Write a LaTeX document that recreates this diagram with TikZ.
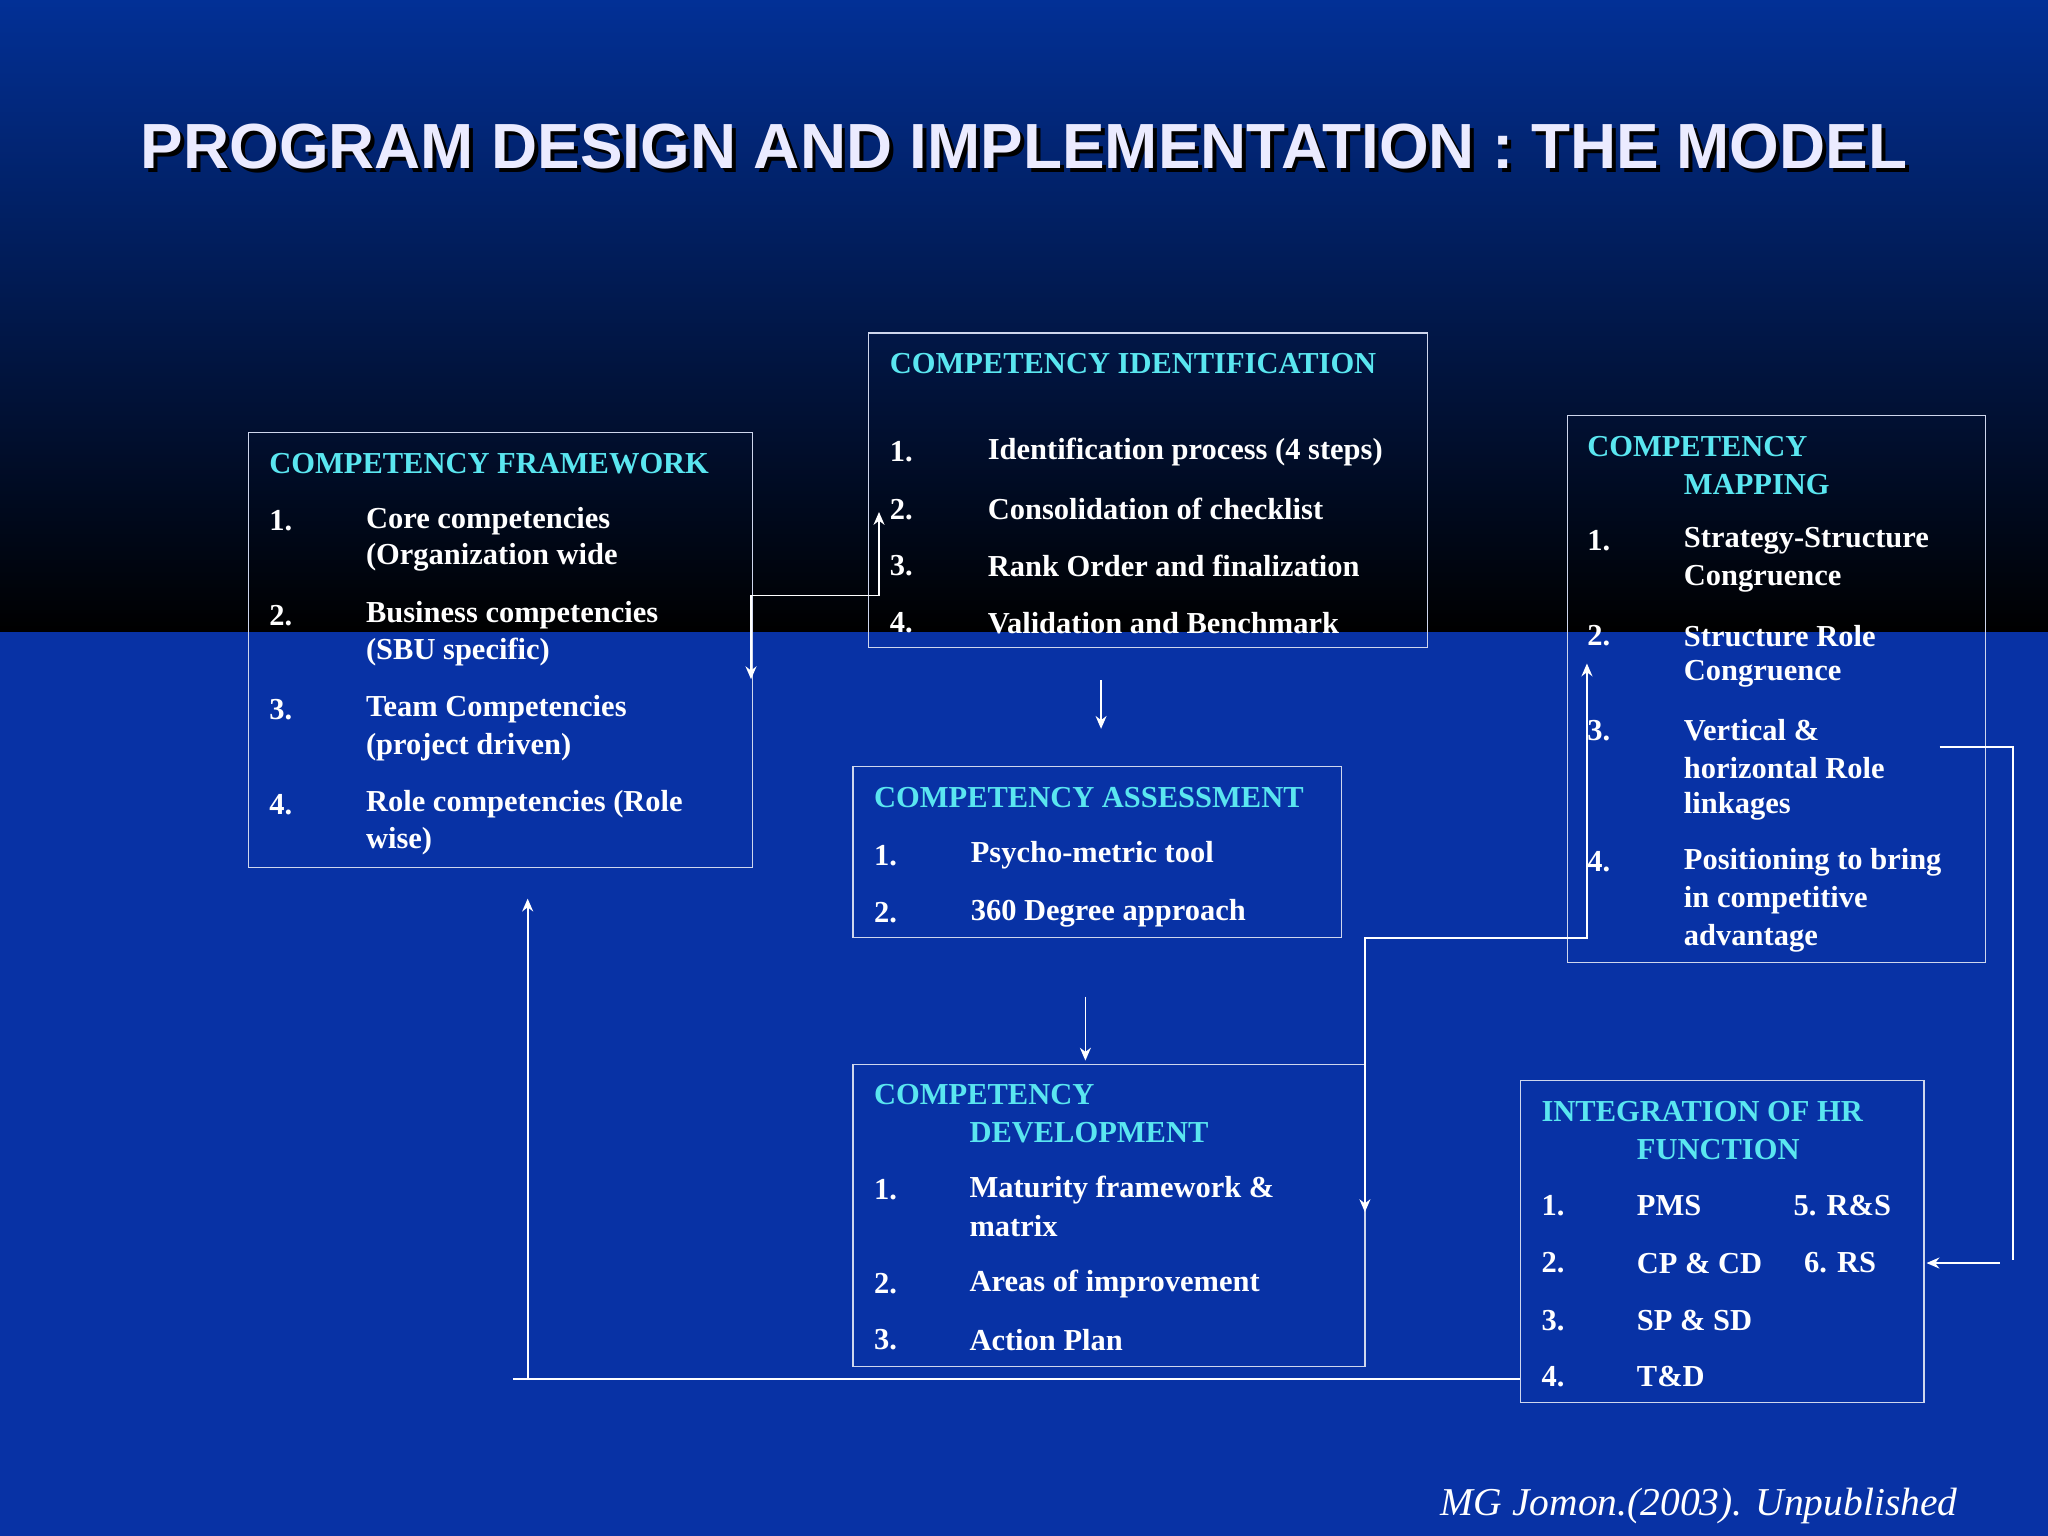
\documentclass[tikz,border=0pt]{standalone}
\usepackage{fontspec}
\setmainfont{Liberation Serif}
\setsansfont{Liberation Sans}
\usetikzlibrary{arrows.meta}
\definecolor{bgblue}{RGB}{8,50,165}
\definecolor{topblue}{RGB}{2,48,150}
\definecolor{headc}{RGB}{90,230,240}
\tikzset{
  box/.style={draw=white!80!bgblue,line width=0.7pt},
  txt/.style={anchor=west,inner sep=0pt,text=white,font=\fontsize{16.6}{19}\selectfont\bfseries},
  hd/.style={txt,text=headc},
  conn/.style={draw=white,line width=0.9pt},
  arr/.style={-{Stealth[length=7pt,width=6pt]}},
}
\newcommand{\T}[3]{\node[txt] at (#1,#2) {#3};}
\newcommand{\Hd}[3]{\node[hd] at (#1,#2) {#3};}
\begin{document}
\begin{tikzpicture}[x=0.025cm,y=-0.025cm]
\useasboundingbox (0,0) rectangle (1568,1176);
\shade[top color=topblue,bottom color=black] (0,0) rectangle (1568,484);
\fill[bgblue] (0,484) rectangle (1568,1176);
% title
\node[inner sep=0pt,text=black] at (787,115) {\resizebox{33.8cm}{!}{\sffamily\bfseries PROGRAM DESIGN AND IMPLEMENTATION : THE MODEL}};
\node[inner sep=0pt,text=white!92!blue] (title) at (784,112) {\resizebox{33.8cm}{!}{\sffamily\bfseries PROGRAM DESIGN AND IMPLEMENTATION : THE MODEL}};
% boxes
\draw[box] (190,331) rectangle (576,664) node[pos=0,inner sep=0] (fw) {};
\draw[box] (665,255) rectangle (1093,496) node[pos=0,inner sep=0] (ci) {};
\draw[box] (653,587) rectangle (1027,718) node[pos=0,inner sep=0] (ca) {};
\draw[box] (653,815) rectangle (1045,1046) node[pos=0,inner sep=0] (cd) {};
\draw[box] (1200,318) rectangle (1520,737) node[pos=0,inner sep=0] (cm) {};
\draw[box] (1164,827) rectangle (1473,1074) node[pos=0,inner sep=0] (ih) {};
% framework
\Hd{206}{355}{COMPETENCY FRAMEWORK}
\T{206}{399}{1.}\T{280}{399}{Core competencies}\T{280}{427}{(Organization wide}
\T{206}{471}{2.}\T{280}{471}{Business competencies}\T{280}{499}{(SBU specific)}
\T{206}{543}{3.}\T{280}{543}{Team Competencies}\T{280}{572}{(project driven)}
\T{206}{616}{4.}\T{280}{616}{Role competencies (Role}\T{280}{644}{wise)}
% identification
\Hd{681}{278}{COMPETENCY IDENTIFICATION}
\T{681}{346}{1.}\T{756}{346}{Identification process (4 steps)}
\T{681}{390}{2.}\T{756}{390}{Consolidation of checklist}
\T{681}{433}{3.}\T{756}{433}{Rank Order and finalization}
\T{681}{477}{4.}\T{756}{477}{Validation and Benchmark}
% assessment
\Hd{669}{611}{COMPETENCY ASSESSMENT}
\T{669}{655}{1.}\T{743}{655}{Psycho-metric tool}
\T{669}{699}{2.}\T{743}{699}{360 Degree approach}
% development
\Hd{669}{838}{COMPETENCY}\Hd{742}{867}{DEVELOPMENT}
\T{669}{911}{1.}\T{742}{911}{Maturity framework \&}\T{742}{939}{matrix}
\T{669}{983}{2.}\T{742}{983}{Areas of improvement}
\T{669}{1026}{3.}\T{742}{1026}{Action Plan}
% mapping
\Hd{1215}{342}{COMPETENCY}\Hd{1289}{371}{MAPPING}
\T{1215}{414}{1.}\T{1289}{414}{Strategy-Structure}\T{1289}{443}{Congruence}
\T{1215}{487}{2.}\T{1289}{487}{Structure Role}\T{1289}{516}{Congruence}
\T{1215}{559}{3.}\T{1289}{559}{Vertical \&}\T{1289}{588}{horizontal Role}\T{1289}{617}{linkages}
\T{1215}{660}{4.}\T{1289}{660}{Positioning to bring}\T{1289}{689}{in competitive}\T{1289}{718}{advantage}
% integration
\Hd{1180}{851}{INTEGRATION OF HR}\Hd{1253}{880}{FUNCTION}
\T{1180}{923}{1.}\T{1253}{923}{PMS}\T{1373}{923}{5. R\&S}
\T{1180}{967}{2.}\T{1253}{967}{CP \& CD}\T{1381}{967}{6. RS}
\T{1180}{1011}{3.}\T{1253}{1011}{SP \& SD}
\T{1180}{1054}{4.}\T{1253}{1054}{T\&D}
% citation
\node[anchor=east,inner sep=0pt,text=white,font=\fontsize{21.5}{24}\selectfont\itshape] (cite) at (1499,1153) {MG Jomon.(2003). Unpublished};
% connectors
\coordinate (a1) at (575,520); \coordinate (a2) at (673,392);
\draw[conn,{Stealth[length=7pt,width=6pt]}-{Stealth[length=7pt,width=6pt]}] (a1) -- (575,456) -- (673,456) -- (a2);
\coordinate (b1) at (843,521); \coordinate (b2) at (843,558);
\draw[conn,arr] (b1) -- (b2);
\coordinate (c1) at (831,763); \coordinate (c2) at (831,812);
\draw[conn,arr] (c1) -- (c2);
\coordinate (d1) at (1045,928); \coordinate (d2) at (1215,508);
\draw[conn,{Stealth[length=7pt,width=6pt]}-{Stealth[length=7pt,width=6pt]}] (d1) -- (1045,718) -- (1215,718) -- (d2);
\coordinate (e1) at (1485,572); \coordinate (e2) at (1541,965);
\draw[conn] (e1) -- (1541,572) -- (e2);
\coordinate (f1) at (1531,967); \coordinate (f2) at (1475,967);
\draw[conn,arr] (f1) -- (f2);
\coordinate (g1) at (1164,1056); \coordinate (g2) at (393,1056); \coordinate (g3) at (404,688);
\draw[conn] (g1) -- (g2);
\draw[conn,arr] (404,1056) -- (g3);
\end{tikzpicture}
\end{document}
